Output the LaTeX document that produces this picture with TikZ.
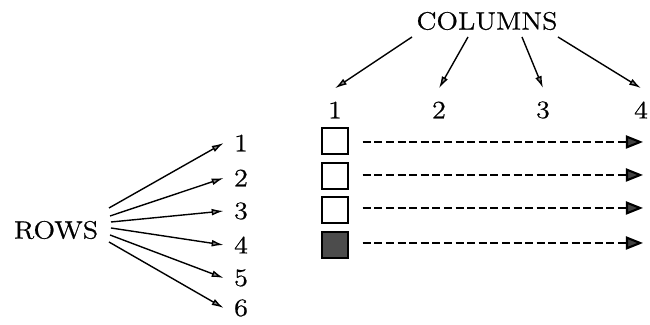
\documentclass[tikz,border=0pt]{standalone}
\usepackage{graphicx}
\usepackage{fontspec}
\newfontfamily\heavyrm{Latin Modern Roman}[FakeBold=0.6]
\usetikzlibrary{arrows.meta}
\newcommand{\widetxt}[1]{\scalebox{1.13}[1]{#1}}
\begin{document}
\begin{tikzpicture}[x=0.5pt,y=-0.5pt,
  lbl/.style={font=\heavyrm\fontsize{12.5}{14}\selectfont, inner sep=0pt},
  rnum/.style={lbl, inner xsep=5pt},
  cnum/.style={lbl, inner ysep=6.5pt},
  solidarr/.style={line width=0.7pt, -{Latex[length=6pt,width=3.4pt,fill=black!45]}},
  dasharr/.style={line width=1.05pt, dash pattern=on 4pt off 1.8pt, shorten <=7pt,
     -{Triangle[length=8.5pt,width=6.5pt,fill=black!75]}},
  cell/.style={draw, line width=0.75pt, minimum size=13pt, inner sep=0pt}]
\useasboundingbox (0,0) rectangle (650,325);

% texts
\node[lbl] (cols) at (487,21) {\widetxt{COLUMNS}};
\node[lbl] (rows) at (56,230) {\widetxt{ROWS}};

\node[cnum] (c1) at (335,110) {\widetxt{1}};
\node[cnum] (c2) at (439,110) {\widetxt{2}};
\node[cnum] (c3) at (543,110) {\widetxt{3}};
\node[cnum] (c4) at (641,110) {\widetxt{4}};

\node[rnum] (r1) at (241,143) {\widetxt{1}};
\node[rnum] (r2) at (241,178) {\widetxt{2}};
\node[rnum] (r3) at (241,211) {\widetxt{3}};
\node[rnum] (r4) at (241,245) {\widetxt{4}};
\node[rnum] (r5) at (241,278) {\widetxt{5}};
\node[rnum] (r6) at (241,308) {\widetxt{6}};

% column arrows
\coordinate (k1) at (412,37);
\coordinate (k2) at (468,37);
\coordinate (k3) at (522,37);
\coordinate (k4) at (558,37);
\draw[solidarr] (k1) -- (c1.north);
\draw[solidarr] (k2) -- (c2.north);
\draw[solidarr] (k3) -- (c3.north);
\draw[solidarr] (k4) -- (c4.north);

% row arrows
\coordinate (s1) at (109,208);
\coordinate (s2) at (110,216);
\coordinate (s3) at (111,222);
\coordinate (s4) at (111,228);
\coordinate (s5) at (110,235);
\coordinate (s6) at (109,242);
\draw[solidarr] (s1) -- (r1.west);
\draw[solidarr] (s2) -- (r2.west);
\draw[solidarr] (s3) -- (r3.west);
\draw[solidarr] (s4) -- (r4.west);
\draw[solidarr] (s5) -- (r5.west);
\draw[solidarr] (s6) -- (r6.west);

% cells
\node[cell] (q1) at (335,141) {};
\node[cell] (q2) at (335,176) {};
\node[cell] (q3) at (335,210) {};
\node[cell, fill=black!70] (q4) at (335,245) {};

% dashed arrows
\coordinate (e1) at (643,142);
\coordinate (e2) at (643,175);
\coordinate (e3) at (643,208);
\coordinate (e4) at (643,243);
\draw[dasharr] (q1.east |- e1) -- (e1);
\draw[dasharr] (q2.east |- e2) -- (e2);
\draw[dasharr] (q3.east |- e3) -- (e3);
\draw[dasharr] (q4.east |- e4) -- (e4);
\end{tikzpicture}
\end{document}
